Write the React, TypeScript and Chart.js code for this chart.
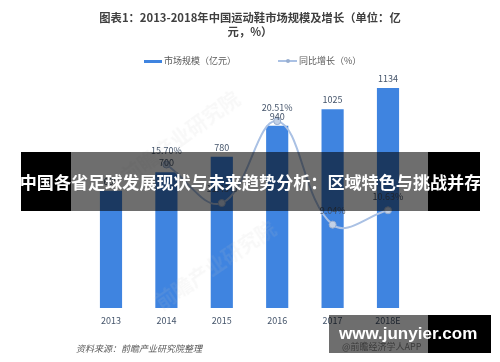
import React, { useEffect, useRef } from "react";
import { Chart, registerables } from "chart.js";

Chart.register(...registerables);

const titleLines = ["图表1：2013-2018年中国运动鞋市场规模及增长（单位：亿", "元，%）"];
const legendBar = "市场规模（亿元）";
const legendLine = "同比增长（%）";
const categories = ["2013", "2014", "2015", "2016", "2017", "2018E"];
const marketSize = [605, 700, 780, 940, 1025, 1134];
const growth: (number | null)[] = [null, 15.7, 11.43, 20.51, 9.04, 10.63];
const growthLabels = ["", "15.70%", "11.43%", "20.51%", "9.04%", "10.63%"];
const sourceText = "资料来源：前瞻产业研究院整理";
const bannerText = "中国各省足球发展现状与未来趋势分析：区域特色与挑战并存";
const siteText = "www.junyier.com";
const appText = "@前瞻经济学人APP";
const watermarkText = "前瞻产业研究院";

const BAR_COLOR = "#3f84e0";
const LINE_COLOR = "#aac1e4";
const LABEL_COLOR = "#44546a";
const CJK = '"Noto Sans CJK SC", "Noto Sans", sans-serif';

const labelPlugin = {
  id: "valueLabels",
  afterDatasetsDraw(chart: any) {
    const ctx = chart.ctx;
    ctx.save();
    ctx.font = `9px ${CJK}`;
    ctx.fillStyle = LABEL_COLOR;
    ctx.textAlign = "center";
    ctx.textBaseline = "middle";
    chart.data.datasets.forEach((ds: any, di: number) => {
      const meta = chart.getDatasetMeta(di);
      meta.data.forEach((el: any, i: number) => {
        const v = ds.data[i];
        if (v === null || v === undefined) return;
        if (ds.type === "line") {
          ctx.fillText(growthLabels[i], el.x, el.y - 14);
        } else {
          ctx.fillText(String(v), el.x, el.y - 9.5);
        }
      });
    });
    ctx.restore();
  },
};

export default function App() {
  const ref = useRef<HTMLCanvasElement | null>(null);

  useEffect(() => {
    if (!ref.current) return;
    const chart = new Chart(ref.current, {
      type: "bar",
      data: {
        labels: categories,
        datasets: [
          {
            type: "line",
            label: legendLine,
            data: growth,
            yAxisID: "y2",
            order: 0,
            borderColor: LINE_COLOR,
            borderWidth: 2,
            tension: 0.4,
            pointRadius: 3.5,
            pointBackgroundColor: "#c3d1e6",
            pointBorderColor: "#98aed0",
            pointBorderWidth: 1,
            spanGaps: false,
          } as any,
          {
            type: "bar",
            label: legendBar,
            data: marketSize,
            yAxisID: "y",
            order: 1,
            backgroundColor: BAR_COLOR,
            barPercentage: 0.4,
            categoryPercentage: 1,
          } as any,
        ],
      },
      options: {
        responsive: false,
        animation: false,
        devicePixelRatio: 1,
        layout: { padding: { left: 83.3, right: 84.3, top: 75.2, bottom: 0 } },
        plugins: {
          legend: { display: false },
          title: { display: false },
          tooltip: { enabled: false },
        },
        scales: {
          x: {
            offset: true,
            grid: { display: false, drawTicks: false },
            border: { display: false },
            ticks: { padding: 7, color: LABEL_COLOR, font: { size: 9, family: CJK } },
            afterFit: (s: any) => {
              s.height = 54;
            },
          },
          y: { display: false, min: 0, max: 1200 },
          y2: { display: false, min: -0.2, max: 25.6, position: "right" },
        },
      },
      plugins: [labelPlugin],
    });
    return () => chart.destroy();
  }, []);

  const abs = (s: React.CSSProperties): React.CSSProperties => ({ position: "absolute", ...s });

  return (
    <div style={{ position: "absolute", left: 0, top: 0, width: 500, height: 362, background: "#fff", overflow: "hidden", fontFamily: CJK }}>
      <canvas ref={ref} width={500} height={362} style={abs({ left: 0, top: 0, width: 500, height: 362 })} />
      {/* title */}
      <div style={abs({ left: 0, top: 10, width: 500, textAlign: "center", fontSize: 11.3, lineHeight: "14px", fontWeight: 700, color: "#404040" })}>
        <div>{titleLines[0]}</div>
        <div>{titleLines[1]}</div>
      </div>
      {/* legend */}
      <div style={abs({ left: 144, top: 59.5, width: 18, height: 3, background: BAR_COLOR })} />
      <div style={abs({ left: 164, top: 55, fontSize: 9, lineHeight: "12px", color: "#595959", whiteSpace: "nowrap" })}>{legendBar}</div>
      <div style={abs({ left: 278, top: 60.3, width: 19, height: 1.5, background: LINE_COLOR })} />
      <div style={abs({ left: 286, top: 59, width: 4, height: 4, borderRadius: 2, background: "#98aed0" })} />
      <div style={abs({ left: 299, top: 55, fontSize: 9, lineHeight: "12px", color: "#595959", whiteSpace: "nowrap" })}>{legendLine}</div>
      {/* faint watermarks */}
      <div style={abs({ left: 110, top: 122, fontSize: 20, fontWeight: 700, color: "rgba(170,170,170,0.08)", transform: "rotate(-36deg)", whiteSpace: "nowrap" })}>{watermarkText}</div>
      <div style={abs({ left: 145, top: 250, fontSize: 20, fontWeight: 700, color: "rgba(200,200,200,0.12)", transform: "rotate(-34deg)", whiteSpace: "nowrap" })}>{watermarkText}</div>
      {/* source */}
      <div style={abs({ left: 76, top: 343, fontSize: 9, lineHeight: "12px", fontStyle: "italic", color: "#595959", whiteSpace: "nowrap" })}>{sourceText}</div>
      <div style={abs({ left: 342, top: 341, fontSize: 9, lineHeight: "12px", color: "#8a8a8a", whiteSpace: "nowrap" })}>{appText}</div>
      {/* banner overlay */}
      <div style={abs({ left: 21, top: 152, width: 50, height: 59, background: "#000" })} />
      <div style={abs({ left: 71, top: 152, width: 357, height: 59, background: "rgba(0,0,0,0.57)" })} />
      <div style={abs({ left: 428, top: 152, width: 52, height: 59, background: "#000" })} />
      <div style={abs({ left: 0, top: 152, width: 501, height: 59, lineHeight: "59px", textAlign: "center", color: "#fff", fontWeight: 700, fontSize: 17.1, whiteSpace: "nowrap" })}>{bannerText}</div>
      {/* site overlay */}
      <div style={abs({ left: 329, top: 315, width: 99, height: 38, background: "rgba(0,0,0,0.57)" })} />
      <div style={abs({ left: 428, top: 315, width: 63, height: 38, background: "#000" })} />
      <div style={abs({ left: 339, top: 324, fontFamily: '"Liberation Sans", Arial, sans-serif', fontWeight: 700, fontSize: 17, lineHeight: "20px", color: "#fff", whiteSpace: "nowrap" })}>{siteText}</div>
    </div>
  );
}
